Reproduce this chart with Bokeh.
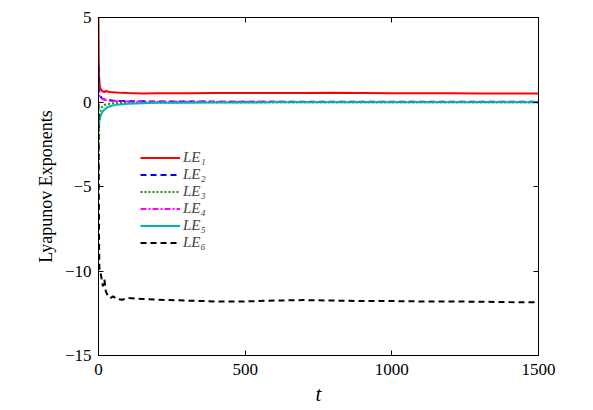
from bokeh.plotting import figure
from bokeh.models import (ColumnDataSource, Legend, LegendItem, LinearAxis,
                          FixedTicker, CustomJSTickFormatter, Range1d)
from bokeh.embed import file_html
from bokeh.resources import INLINE

# ---- data ----
t = [0, 1, 2, 3, 5, 8, 10, 15, 20, 25, 30, 40, 50, 60, 80, 100, 150, 200,
     300, 400, 500, 600, 700, 800, 900, 1000, 1100, 1200, 1300, 1400, 1500]

le1 = [5.0, 2.5, 1.6, 1.2, 0.9, 0.75, 0.7, 0.62, 0.58, 0.66, 0.62, 0.59, 0.57,
       0.56, 0.54, 0.53, 0.51, 0.52, 0.52, 0.53, 0.53, 0.53, 0.53, 0.54, 0.53,
       0.52, 0.52, 0.52, 0.51, 0.51, 0.50]
le2 = [2.1, 1.2, 0.8, 0.6, 0.4, 0.3, 0.25, 0.18, 0.15, 0.13, 0.12, 0.1, 0.08,
       0.07, 0.06, 0.05, 0.04, 0.03, 0.03, 0.02, 0.02, 0.02, 0.02, 0.01, 0.01,
       0.01, 0.01, 0.01, 0.01, 0.01, 0.01]
le3 = [-4.6, -2.5, -1.6, -1.1, -0.7, -0.45, -0.35, -0.25, -0.18, -0.15, -0.12,
       -0.1, -0.08, -0.07, -0.06, -0.05, -0.04, -0.03, -0.02, -0.02, -0.02,
       -0.01, -0.01, -0.01, -0.01, -0.01, -0.01, -0.01, -0.01, -0.01, -0.01]
le4 = [0.9, 0.6, 0.45, 0.35, 0.3, 0.25, 0.22, 0.18, 0.15, 0.12, 0.1, 0.08,
       0.06, 0.05, 0.04, 0.03, 0.02, 0.02, 0.01, 0.01, 0.01, 0.01, 0.0, 0.0,
       0.0, 0.0, 0.0, 0.0, 0.0, 0.0, 0.0]
le5 = [-1.4, -1.3, -1.2, -1.1, -0.95, -0.8, -0.7, -0.55, -0.45, -0.38, -0.32,
       -0.25, -0.2, -0.17, -0.13, -0.1, -0.07, -0.05, -0.04, -0.03, -0.03,
       -0.02, -0.02, -0.02, -0.02, -0.02, -0.01, -0.01, -0.01, -0.01, -0.01]
le6 = [-0.1, -5.0, -8.5, -9.8, -10.1, -10.2, -10.4, -10.9, -10.5, -11.2, -11.4,
       -11.6, -11.5, -11.65, -11.7, -11.6, -11.65, -11.7, -11.75, -11.8, -11.8,
       -11.75, -11.72, -11.75, -11.78, -11.78, -11.8, -11.8, -11.82, -11.84,
       -11.85]

series_names = ["LE\u2081", "LE\u2082", "LE\u2083", "LE\u2084", "LE\u2085", "LE\u2086"]
colors = ["#ff0000", "#0000ff", "#00a000", "#ff00ff", "#00b4b4", "#000000"]
dashes = ["solid", "6 4", "2 2", "6 2 2 2", "solid", "6 4"]

x_ticks = [0, 500, 1000, 1500]
y_ticks = [-15, -10, -5, 0, 5]
y_tick_labels = ["\u221215", "\u221210", "\u22125", "0", "5"]

SERIF = "Liberation Serif"

p = figure(width=585, height=402, output_backend="svg", toolbar_location=None,
           frame_width=440, frame_height=338,
           min_border_left=98, min_border_top=17, min_border_right=47,
           min_border_bottom=30,
           x_range=Range1d(0, 1500), y_range=Range1d(-15, 5))
p.xgrid.visible = False
p.ygrid.visible = False
p.outline_line_color = "black"
p.outline_line_width = 1
p.background_fill_color = "white"
p.border_fill_color = "white"

src = ColumnDataSource(dict(t=t, le1=le1, le2=le2, le3=le3, le4=le4, le5=le5, le6=le6))
keys = ["le1", "le2", "le3", "le4", "le5", "le6"]
renderers = []
for k, c, d in zip(keys, colors, dashes):
    r = p.line("t", k, source=src, line_color=c, line_width=2, line_dash=d)
    renderers.append(r)

# axes
for ax in (p.xaxis[0], p.yaxis[0]):
    ax.major_tick_in = 5
    ax.major_tick_out = 0
    ax.minor_tick_line_color = None
    ax.axis_line_color = "black"
    ax.major_label_text_font = SERIF
    ax.major_label_text_font_size = "17px"
    ax.major_label_text_color = "black"
    ax.axis_label_text_font = SERIF
    ax.axis_label_text_color = "black"

p.xaxis[0].ticker = FixedTicker(ticks=x_ticks)
p.yaxis[0].ticker = FixedTicker(ticks=y_ticks)
p.yaxis[0].major_label_overrides = {v: s for v, s in zip(y_ticks, y_tick_labels)}
p.xaxis[0].major_label_standoff = 8
p.yaxis[0].major_label_standoff = 7
p.xaxis[0].axis_label = "t"
p.xaxis[0].axis_label_text_font_style = "italic"
p.xaxis[0].axis_label_text_font_size = "21px"
p.xaxis[0].axis_label_standoff = 4
p.yaxis[0].axis_label = "Lyapunov Exponents"
p.yaxis[0].axis_label_text_font_style = "normal"
p.yaxis[0].axis_label_text_font_size = "18px"
p.yaxis[0].axis_label_standoff = 6

blank = CustomJSTickFormatter(code="return ''")
top = LinearAxis(ticker=FixedTicker(ticks=x_ticks), formatter=blank,
                 major_tick_in=5, major_tick_out=0, minor_tick_line_color=None,
                 major_label_text_font_size="0px")
right = LinearAxis(ticker=FixedTicker(ticks=y_ticks), formatter=blank,
                   major_tick_in=5, major_tick_out=0, minor_tick_line_color=None,
                   major_label_text_font_size="0px")
p.add_layout(top, "above")
p.add_layout(right, "right")

legend = Legend(items=[LegendItem(label=n, renderers=[r]) for n, r in zip(series_names, renderers)],
                location=(42, 104), border_line_color=None, background_fill_alpha=0,
                padding=0, margin=0, spacing=0, glyph_width=40, glyph_height=15,
                label_height=15, label_standoff=3, label_text_font=SERIF,
                label_text_font_style="italic", label_text_font_size="15px")
p.add_layout(legend, "center")

open("out.html", "w").write(file_html(p, INLINE))
